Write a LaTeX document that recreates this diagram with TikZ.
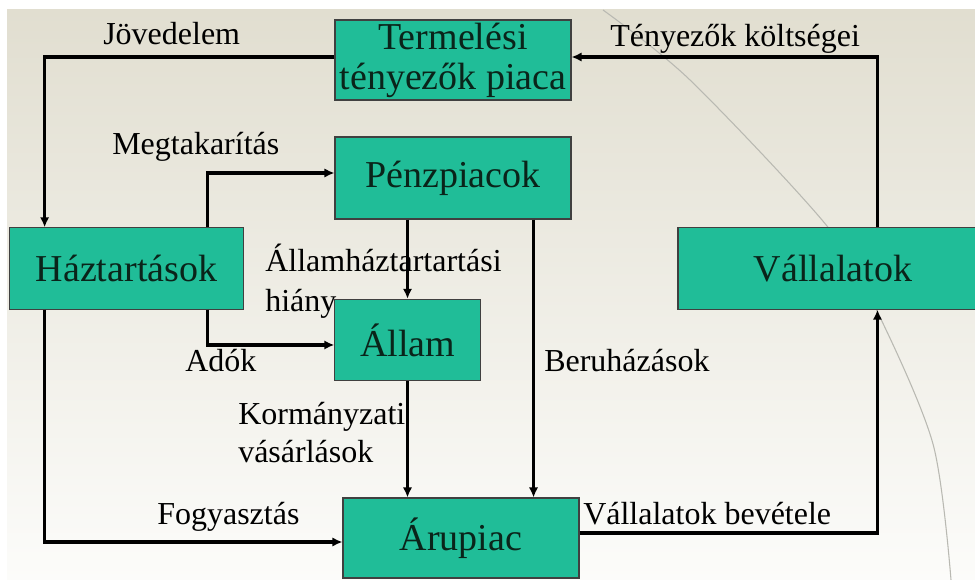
\documentclass[tikz,border=0pt]{standalone}
\usepackage{fontspec}
\setmainfont{Liberation Serif}
\usetikzlibrary{arrows.meta}
\definecolor{boxfill}{RGB}{32,189,152}
\definecolor{boxtext}{RGB}{10,36,26}
\definecolor{bgtop}{RGB}{225,222,208}
\definecolor{bgbot}{RGB}{252,252,250}
\definecolor{arcgray}{RGB}{185,185,178}
\begin{document}
\begin{tikzpicture}[x=0.75pt,y=-0.75pt,
  box/.style={draw=black!75,line width=0.8pt,fill=boxfill,inner sep=0pt,text=boxtext,
    font=\fontsize{28.5pt}{30pt}\selectfont,align=center},
  lbl/.style={font=\fontsize{24pt}{28.5pt}\selectfont,inner sep=0pt,anchor=base west},
  arr/.style={line width=2.3pt,-{Latex[length=7.5pt,width=7pt]}}]
\useasboundingbox (0,0) rectangle (975,580);
\clip (0,0) rectangle (975,580);
\fill[white] (0,0) rectangle (975,580);
\shade[top color=bgtop,bottom color=bgbot] (7,10) rectangle (975,580);
\draw[arcgray,line width=0.8pt] plot[smooth] coordinates {(603,10) (690,80) (827,226) (877,311) (933,444) (951,580)};
% boxes
\node[box,minimum width=177pt,minimum height=60pt] (term) at (453,60) {Termelési\\tényezők piaca};
\node[box,minimum width=177pt,minimum height=61.5pt] (penz) at (453,178) {Pénzpiacok};
\node[box,minimum width=176pt,minimum height=61pt] (hazt) at (126.5,268.5) {Háztartások};
\node[box,minimum width=109pt,minimum height=61pt] (allam) at (407.5,340) {Állam};
\node[box,minimum width=177pt,minimum height=60pt] (aru) at (461,538) {Árupiac};
\node[box,minimum width=232.5pt,minimum height=61pt] (vall) at (833,268.5) {Vállalatok};
% labels
\node[lbl] (ljov) at (103,45) {Jövedelem};
\node[lbl] (lteny) at (610,47) {Tényezők költségei};
\node[lbl] (lmeg) at (112,155) {Megtakarítás};
\node[lbl] (lall1) at (265,272) {Államháztartartási};
\node[lbl] (lall2) at (265,312) {hiány};
\node[lbl] (lado) at (185,372) {Adók};
\node[lbl] (lber) at (544,372) {Beruházások};
\node[lbl] (lkor1) at (238,425) {Kormányzati};
\node[lbl] (lkor2) at (238,463) {vásárlások};
\node[lbl] (lfogy) at (157,525) {Fogyasztás};
\node[lbl] (lbev) at (583,525) {Vállalatok bevétele};
% connectors
\draw[arr] ([yshift=2.25pt]term.west) -| ([xshift=27pt]hazt.north west);
\draw[arr] ([xshift=150pt]vall.north west) |- ([yshift=2.25pt]term.east);
\draw[arr] ([xshift=149.25pt]hazt.north west) |- ([yshift=3.75pt]penz.west);
\draw[arr] ([xshift=149.25pt]hazt.south west) |- ([yshift=-3.75pt]allam.west);
\draw[arr] (allam.north |- penz.south) -- (allam.north);
\coordinate (pb) at ([xshift=-28.5pt]penz.south east);
\draw[arr] (pb) -- (pb |- aru.north);
\draw[arr] (allam.south) -- (allam.south |- aru.north);
\draw[arr] ([xshift=27pt]hazt.south west) |- ([yshift=-3pt]aru.west);
\draw[arr] ([yshift=3.75pt]aru.east) -| ([xshift=150pt]vall.south west);
\end{tikzpicture}
\end{document}
